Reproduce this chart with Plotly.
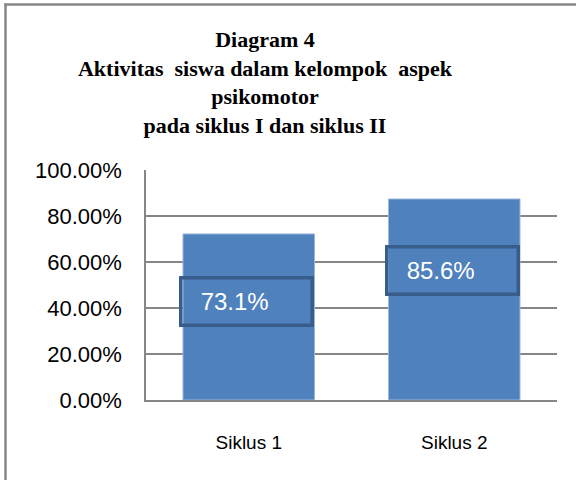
import plotly.graph_objects as go

categories = ["Siklus 1", "Siklus 2"]
values = [0.722, 0.874]
label_texts = ["73.1%", "85.6%"]
label_y = [0.43, 0.564]
tick_vals = [0, 0.2, 0.4, 0.6, 0.8, 1.0]

W, H = 576, 480
L, R, T, B = 146, 19, 170, 80
pw, ph = W - L - R, H - T - B

def px_x(x):
    return (x - L) / pw

def px_y(y):
    return (H - B - y) / ph

fig = go.Figure()
fig.add_trace(go.Bar(
    x=categories, y=values,
    marker=dict(color="#4F81BD", line=dict(color="#9db7dc", width=1)),
    width=0.64, hoverinfo="skip",
))

for c, t, ly in zip(categories, label_texts, label_y):
    fig.add_annotation(
        x=c, y=ly, xref="x", yref="y", xshift=-2,
        text="\u00a0\u00a0\u2009" + t, showarrow=False,
        align="left", width=128, height=44,
        bordercolor="#385D8A", borderwidth=3.5, borderpad=0,
        font=dict(family="Liberation Sans, Arial", size=24, color="white"),
    )

# outer chart border (cropped at right and bottom): left and top edges only
fig.add_shape(type="line", xref="paper", yref="paper",
              x0=px_x(5.5), x1=px_x(5.5), y0=px_y(3.5), y1=px_y(480),
              line=dict(color="#868686", width=2.5), layer="above")
fig.add_shape(type="line", xref="paper", yref="paper",
              x0=px_x(4.5), x1=px_x(576), y0=px_y(4.5), y1=px_y(4.5),
              line=dict(color="#868686", width=2.5), layer="above")

fig.update_layout(
    width=W, height=H,
    margin=dict(l=L, r=R, t=T, b=B),
    paper_bgcolor="white", plot_bgcolor="white",
    showlegend=False,
    bargap=0.36,
    title=dict(
        text="Diagram 4<br>Aktivitas  siswa dalam kelompok  aspek<br>psikomotor<br>pada siklus I dan siklus II",
        x=265 / W, xanchor="center", xref="container",
        y=1 - 47 / H, yanchor="top", yref="container",
        font=dict(family="Liberation Serif, Times New Roman", size=22, color="black", weight="bold"),
    ),
    xaxis=dict(
        showgrid=False, showline=True, linecolor="#868686", linewidth=1.5,
        ticks="", ticklabelstandoff=24,
        tickfont=dict(family="Liberation Sans, Arial", size=19, color="black"),
        fixedrange=True,
    ),
    yaxis=dict(
        range=[0, 1], tickvals=tick_vals, tickformat=".2%",
        showgrid=True, gridcolor="#868686", gridwidth=1.5,
        showline=True, linecolor="#868686", linewidth=1.5,
        zeroline=False, ticks="", ticklabelstandoff=18,
        tickfont=dict(family="Liberation Sans, Arial", size=22, color="black"),
        fixedrange=True,
    ),
)

fig.write_html("out.html", config={"displayModeBar": False},
               post_script="document.body.style.margin='0';document.body.style.overflow='hidden';")
